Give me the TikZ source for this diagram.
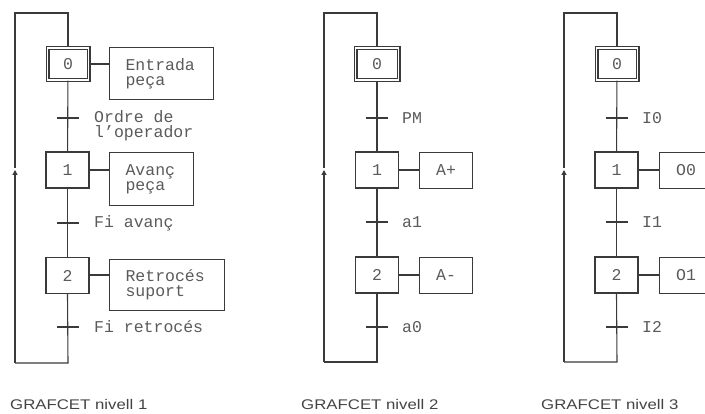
\documentclass[tikz,border=0pt]{standalone}
\usepackage{fontspec}
\setmainfont{Liberation Serif}
\newfontfamily\monof{Liberation Mono}
\newfontfamily\capf[FakeStretch=1.2]{Liberation Sans}
\usetikzlibrary{arrows.meta}
\definecolor{ln}{HTML}{3A3A3A}
\definecolor{tx}{HTML}{5A5A5A}
\definecolor{cp}{HTML}{444444}
\tikzset{
  mono/.style={font=\monof\fontsize{16.5}{15}\selectfont, text=tx},
  stepbox/.style={draw=ln, line width=1.1pt, minimum width=43pt, minimum height=36pt, inner sep=0pt, mono},
  initstep/.style={draw=ln, line width=1.1pt, double=white, double distance=1.8pt, minimum width=41pt, minimum height=32pt, inner sep=0pt, mono},
  actbox/.style={draw=ln, line width=1.1pt, anchor=north west, inner ysep=0pt, mono},
  wire/.style={draw=ln, line width=1.1pt},
  link/.style={draw=ln, line width=2pt},
  tick/.style={draw=ln, line width=1.3pt},
  tlabel/.style={anchor=west, inner sep=0pt, mono},
  caption/.style={anchor=west, inner sep=0pt, font=\capf\fontsize{14}{16}\selectfont, text=cp},
  uparrow/.style={-{Triangle[width=5pt,length=5pt]}}
}
\begin{document}
\begin{tikzpicture}[x=1pt,y=-1pt]
\useasboundingbox (0,0) rectangle (705,414);
\clip (0,0) rectangle (705,414);

% ---------------- Diagram 1 ----------------
\begin{scope}[xshift=68pt]
  \node[initstep] (a0) at (0,64) {0};
  \node[stepbox] (a1) at (-0.5,170) {1};
  \node[stepbox] (a2) at (-0.5,275.5) {2};
  \node[actbox, minimum width=104pt, minimum height=52pt, text width=72pt, inner xsep=16pt, align=left] (aa0) at (41,47) {Entrada\\peça};
  \node[actbox, minimum width=84pt, minimum height=53pt, text width=52pt, inner xsep=16pt, align=left] (aa1) at (41,152) {Avanç\\peça};
  \node[actbox, minimum width=115pt, minimum height=51pt, text width=83pt, inner xsep=16pt, align=left] (aa2) at (41,259) {Retrocés\\suport};
  \coordinate (at0) at (0,118);
  \coordinate (at1) at (0,223);
  \coordinate (at2) at (0,327);
  \coordinate (atop) at (0,13);
  \coordinate (atl) at (-53,13);
  \coordinate (abot) at (0,363);
  \coordinate (abl) at (-53,363);
  \coordinate (aar) at (-53,170);
  \coordinate (aar2) at (-53,168);
  \draw[wire] (a0) -- (a1);
  \draw[wire] (a1) -- (a2);
  \draw[wire] (a2.south) -- (abot) -- (abl);
  \draw[wire, uparrow] (abl) -- (aar);
  \draw[wire] (aar2) -- (atl) -- (atop) -- (a0.north);
  \draw[link] (a0.east) -- (a0.east -| aa0.west);
  \draw[link] (a1.east) -- (a1.east -| aa1.west);
  \draw[link] (a2.east) -- (a2.east -| aa2.west);
  \draw[tick] ([xshift=-11pt]at0) -- ([xshift=11pt]at0);
  \draw[tick] ([xshift=-11pt]at1) -- ([xshift=11pt]at1);
  \draw[tick] ([xshift=-11pt]at2) -- ([xshift=11pt]at2);
  \node[tlabel, anchor=north west, align=left] (al0) at ([xshift=26pt,yshift=8pt]at0) {Ordre de\\l’operador};
  \node[tlabel] (al1) at ([xshift=26pt]at1) {Fi avanç};
  \node[tlabel] (al2) at ([xshift=26pt]at2) {Fi retrocés};
\end{scope}
\node[caption] (c1) at (10,404) {GRAFCET nivell 1};

% ---------------- Diagram 2 ----------------
\begin{scope}[xshift=377pt]
  \node[initstep, minimum width=43pt] (b0) at (0,64) {0};
  \node[stepbox] (b1) at (0,170) {1};
  \node[stepbox] (b2) at (0,275) {2};
  \node[actbox, minimum width=53pt, minimum height=36pt, inner xsep=0pt, align=center] (ba1) at (42,152) {A+};
  \node[actbox, minimum width=53pt, minimum height=36pt, inner xsep=0pt, align=center] (ba2) at (42,257) {A-};
  \coordinate (bt0) at (0,118);
  \coordinate (bt1) at (0,222);
  \coordinate (bt2) at (0,327);
  \coordinate (btop) at (0,13);
  \coordinate (btl) at (-53,13);
  \coordinate (bbot) at (0,362);
  \coordinate (bbl) at (-53,362);
  \coordinate (bar) at (-53,170);
  \coordinate (bar2) at (-53,168);
  \draw[wire] (b0) -- (b1);
  \draw[wire] (b1) -- (b2);
  \draw[wire] (b2.south) -- (bbot) -- (bbl);
  \draw[wire, uparrow] (bbl) -- (bar);
  \draw[wire] (bar2) -- (btl) -- (btop) -- (b0.north);
  \draw[link] (b1.east) -- (b1.east -| ba1.west);
  \draw[link] (b2.east) -- (b2.east -| ba2.west);
  \draw[tick] ([xshift=-11pt]bt0) -- ([xshift=11pt]bt0);
  \draw[tick] ([xshift=-11pt]bt1) -- ([xshift=11pt]bt1);
  \draw[tick] ([xshift=-11pt]bt2) -- ([xshift=11pt]bt2);
  \node[tlabel] (bl0) at ([xshift=25pt]bt0) {PM};
  \node[tlabel] (bl1) at ([xshift=25pt]bt1) {a1};
  \node[tlabel] (bl2) at ([xshift=25pt]bt2) {a0};
\end{scope}
\node[caption] (c2) at (301,404) {GRAFCET nivell 2};

% ---------------- Diagram 3 ----------------
\begin{scope}[xshift=617pt]
  \node[initstep] (d0) at (0,64) {0};
  \node[stepbox] (d1) at (-0.5,170) {1};
  \node[stepbox] (d2) at (-0.5,275) {2};
  \node[actbox, minimum width=53pt, minimum height=36pt, inner xsep=0pt, align=center] (da1) at (42,152) {O0};
  \node[actbox, minimum width=53pt, minimum height=36pt, inner xsep=0pt, align=center] (da2) at (42,257) {O1};
  \coordinate (dt0) at (0,118);
  \coordinate (dt1) at (0,222);
  \coordinate (dt2) at (0,327);
  \coordinate (dtop) at (0,13);
  \coordinate (dtl) at (-53,13);
  \coordinate (dbot) at (0,362);
  \coordinate (dbl) at (-53,362);
  \coordinate (dar) at (-53,170);
  \coordinate (dar2) at (-53,168);
  \draw[wire] (d0) -- (d1);
  \draw[wire] (d1) -- (d2);
  \draw[wire] (d2.south) -- (dbot) -- (dbl);
  \draw[wire, uparrow] (dbl) -- (dar);
  \draw[wire] (dar2) -- (dtl) -- (dtop) -- (d0.north);
  \draw[link] (d1.east) -- (d1.east -| da1.west);
  \draw[link] (d2.east) -- (d2.east -| da2.west);
  \draw[tick] ([xshift=-11pt]dt0) -- ([xshift=11pt]dt0);
  \draw[tick] ([xshift=-11pt]dt1) -- ([xshift=11pt]dt1);
  \draw[tick] ([xshift=-11pt]dt2) -- ([xshift=11pt]dt2);
  \node[tlabel] (dl0) at ([xshift=25pt]dt0) {I0};
  \node[tlabel] (dl1) at ([xshift=25pt]dt1) {I1};
  \node[tlabel] (dl2) at ([xshift=25pt]dt2) {I2};
\end{scope}
\node[caption] (c3) at (541,404) {GRAFCET nivell 3};
\end{tikzpicture}
\end{document}
